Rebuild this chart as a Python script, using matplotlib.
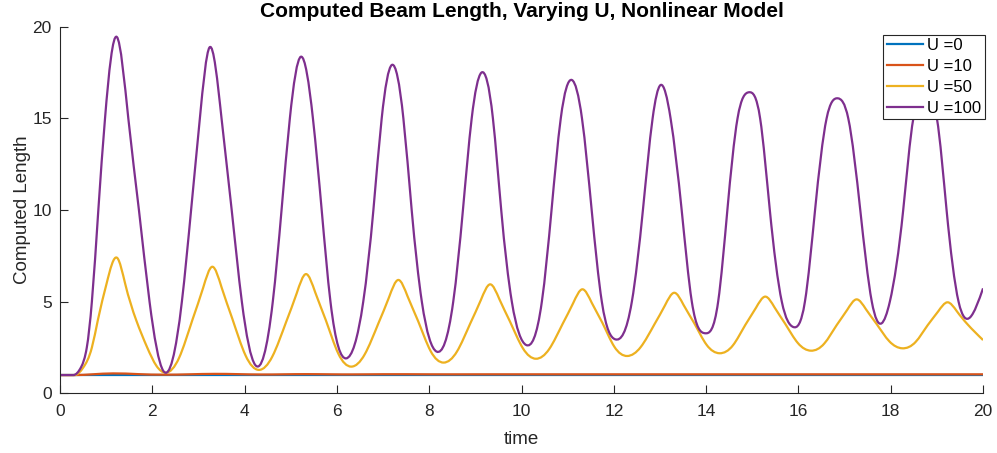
import numpy as np
import matplotlib
matplotlib.use("Agg")
import matplotlib.pyplot as plt
from matplotlib.path import Path
from matplotlib.patches import PathPatch
from matplotlib.lines import Line2D

plt.rcParams['font.family'] = ['Liberation Sans', 'DejaVu Sans']

# ---- data -----------------------------------------------------------------
series_labels = ['U =0', 'U =10', 'U =50', 'U =100']
series_colors = ['#0072BD', '#D95319', '#EDB120', '#7E2F8E']

# each response rests at length 1 until it starts to move
u0_t = [0.0, 20.0]
u0_v = [1.0, 1.0]

u10_t = [0.0, 0.3, 0.7, 1.15, 1.7, 2.25, 2.8, 3.35, 3.85, 4.35, 4.85, 5.35,
         5.85, 6.35, 7.0, 8.0, 9.0, 10.0, 12.0, 14.0, 16.0, 18.0, 20.0]
u10_v = [1.0, 1.0, 1.04, 1.09, 1.05, 1.02, 1.04, 1.065, 1.05, 1.03, 1.04, 1.05,
         1.04, 1.035, 1.045, 1.04, 1.04, 1.04, 1.04, 1.04, 1.04, 1.04, 1.04]

u50_t = [0.00, 0.32, 0.50, 0.69, 0.82, 1.01, 1.24, 1.41, 1.65, 1.89, 2.09, 2.29,
         2.58, 2.87, 3.10, 3.30, 3.50, 3.73, 4.02, 4.31,
         4.60, 4.90, 5.13, 5.33, 5.53, 5.76, 6.03, 6.31,
         6.60, 6.90, 7.13, 7.33, 7.53, 7.76, 8.03, 8.31,
         8.60, 8.89, 9.12, 9.32, 9.52, 9.75, 10.03, 10.31,
         10.60, 10.89, 11.12, 11.32, 11.52, 11.75, 12.01, 12.29,
         12.58, 12.88, 13.11, 13.31, 13.51, 13.74, 14.01, 14.29,
         14.58, 14.85, 15.08, 15.28, 15.48, 15.71, 15.99, 16.27,
         16.56, 16.83, 17.06, 17.26, 17.46, 17.69, 17.97, 18.25,
         18.54, 18.80, 19.03, 19.23, 19.43, 19.66, 20.00]
u50_v = [1.00, 1.00, 1.40, 2.50, 4.00, 6.00, 7.39, 6.00, 4.00, 2.50, 1.50, 1.13,
         1.94, 4.02, 5.75, 6.91, 5.79, 4.10, 2.07, 1.28,
         2.01, 3.90, 5.47, 6.51, 5.51, 3.99, 2.17, 1.46,
         2.12, 3.83, 5.25, 6.19, 5.30, 3.94, 2.31, 1.68,
         2.28, 3.82, 5.10, 5.95, 5.14, 3.92, 2.46, 1.89,
         2.42, 3.79, 4.93, 5.68, 4.95, 3.86, 2.55, 2.04,
         2.52, 3.77, 4.81, 5.49, 4.83, 3.84, 2.65, 2.19,
         2.62, 3.74, 4.67, 5.28, 4.70, 3.81, 2.74, 2.33,
         2.72, 3.73, 4.57, 5.13, 4.60, 3.80, 2.84, 2.46,
         2.81, 3.72, 4.48, 4.97, 4.49, 3.78, 2.91]

u100_t = [0.00, 0.29, 0.46, 0.58, 0.69, 0.83, 0.975, 1.23, 1.48, 1.71, 1.94, 2.24,
          2.64, 2.84, 3.03, 3.24, 3.50, 3.72, 3.94, 4.23,
          4.61, 4.80, 4.98, 5.22, 5.48, 5.67, 5.86, 6.20,
          6.57, 6.79, 6.97, 7.19, 7.44, 7.62, 7.84, 8.16,
          8.52, 8.73, 8.92, 9.13, 9.38, 9.56, 9.79, 10.10,
          10.44, 10.65, 10.85, 11.09, 11.31, 11.52, 11.74, 12.03,
          12.39, 12.63, 12.84, 13.01, 13.23, 13.47, 13.69, 13.98,
          14.26, 14.46, 14.68, 14.93, 15.17, 15.38, 15.64, 15.89,
          16.14, 16.36, 16.61, 16.85, 17.08, 17.34, 17.59, 17.80,
          17.98, 18.27, 18.49, 18.74, 19.00, 19.21, 19.47, 19.72,
          20.00]
u100_v = [1.00, 1.00, 1.45, 2.50, 5.00, 10.00, 15.00, 19.45, 15.00, 10.00, 5.00, 1.22,
          5.00, 10.00, 15.00, 18.88, 15.00, 10.00, 5.00, 1.55,
          5.00, 10.00, 15.00, 18.37, 15.00, 10.00, 5.00, 1.91,
          5.00, 10.00, 15.00, 17.92, 15.00, 10.00, 5.00, 2.28,
          5.00, 10.00, 15.00, 17.50, 15.00, 10.00, 5.00, 2.64,
          5.00, 10.00, 15.00, 17.10, 15.00, 10.00, 5.00, 2.95,
          5.00, 10.00, 15.00, 16.82, 15.00, 10.00, 5.00, 3.28,
          5.00, 10.00, 15.00, 16.43, 15.00, 10.00, 5.00, 3.62,
          5.00, 10.00, 15.00, 16.10, 15.00, 10.00, 5.00, 3.82,
          5.00, 10.00, 15.00, 15.85, 15.00, 10.00, 5.00, 4.15,
          5.73]

x_ticks = [0, 2, 4, 6, 8, 10, 12, 14, 16, 18, 20]
y_ticks = [0, 5, 10, 15, 20]


def smooth_path(t, v):
    """C2 cubic spline through the samples, emitted as Bezier segments.

    A leading run of equal values is kept as a straight rest segment and the
    curve leaves it with zero slope."""
    t = np.asarray(t, float)
    v = np.asarray(v, float)
    if len(t) < 3:
        return Path(np.column_stack([t, v]))
    k = 0
    while k + 1 < len(v) and v[k + 1] == v[0]:
        k += 1
    verts = [(t[0], v[0])]
    codes = [Path.MOVETO]
    if k > 0:
        verts.append((t[k], v[k]))
        codes.append(Path.LINETO)
    ts, vs = t[k:], v[k:]
    n = len(ts)
    h = np.diff(ts)
    d = np.diff(vs) / h
    A = np.zeros((n, n))
    b = np.zeros(n)
    if k > 0:
        A[0, 0] = 1.0
    else:
        A[0, 0], A[0, 1], b[0] = 2.0, 1.0, 3 * d[0]
    for i in range(1, n - 1):
        A[i, i - 1] = h[i]
        A[i, i] = 2 * (h[i - 1] + h[i])
        A[i, i + 1] = h[i - 1]
        b[i] = 3 * (h[i] * d[i - 1] + h[i - 1] * d[i])
    A[-1, -2], A[-1, -1], b[-1] = 1.0, 2.0, 3 * d[-1]
    m = np.linalg.solve(A, b)
    for i in range(n - 1):
        verts += [(ts[i] + h[i] / 3, vs[i] + m[i] * h[i] / 3),
                  (ts[i + 1] - h[i] / 3, vs[i + 1] - m[i + 1] * h[i] / 3),
                  (ts[i + 1], vs[i + 1])]
        codes += [Path.CURVE4] * 3
    return Path(verts, codes)


fig = plt.figure(figsize=(9.97, 4.53), dpi=100)
ax = fig.add_axes([0.0602, 0.1316, 0.9258, 0.8092])

axis_color = '#262626'
lw = 1.6
for (tt, vv), col in zip([(u0_t, u0_v), (u10_t, u10_v), (u50_t, u50_v), (u100_t, u100_v)],
                         series_colors):
    ax.add_patch(PathPatch(smooth_path(tt, vv), facecolor='none', edgecolor=col,
                           linewidth=lw, capstyle='butt', joinstyle='round'))

ax.set_xlim(0, 20)
ax.set_ylim(0, 20)
ax.set_xticks(x_ticks)
ax.set_yticks(y_ticks)
for s in ['top', 'right']:
    ax.spines[s].set_visible(False)
for s in ['left', 'bottom']:
    ax.spines[s].set_color(axis_color)
    ax.spines[s].set_linewidth(0.8)
ax.tick_params(direction='in', length=6, width=0.8, colors=axis_color,
               labelsize=12.5)
ax.tick_params(axis='x', pad=8)
ax.tick_params(axis='y', pad=6)

ax.set_title('Computed Beam Length, Varying U, Nonlinear Model',
             fontsize=15, fontweight='bold', color='black', pad=7)
ax.set_xlabel('time', fontsize=13.5, color=axis_color, labelpad=8)
ax.set_ylabel('Computed Length', fontsize=13.5, color=axis_color, labelpad=1)

handles = [Line2D([], [], color=c, lw=lw) for c in series_colors]
leg = ax.legend(handles, series_labels, loc='upper right',
                bbox_to_anchor=(1.002, 0.978), borderaxespad=0,
                fancybox=False, framealpha=1, edgecolor=axis_color,
                fontsize=12, handlelength=2.2, handletextpad=0.25,
                labelspacing=0.35, borderpad=0.2)
leg.get_frame().set_linewidth(0.8)
leg.set_zorder(10)

fig.savefig('out.png', dpi=100)
